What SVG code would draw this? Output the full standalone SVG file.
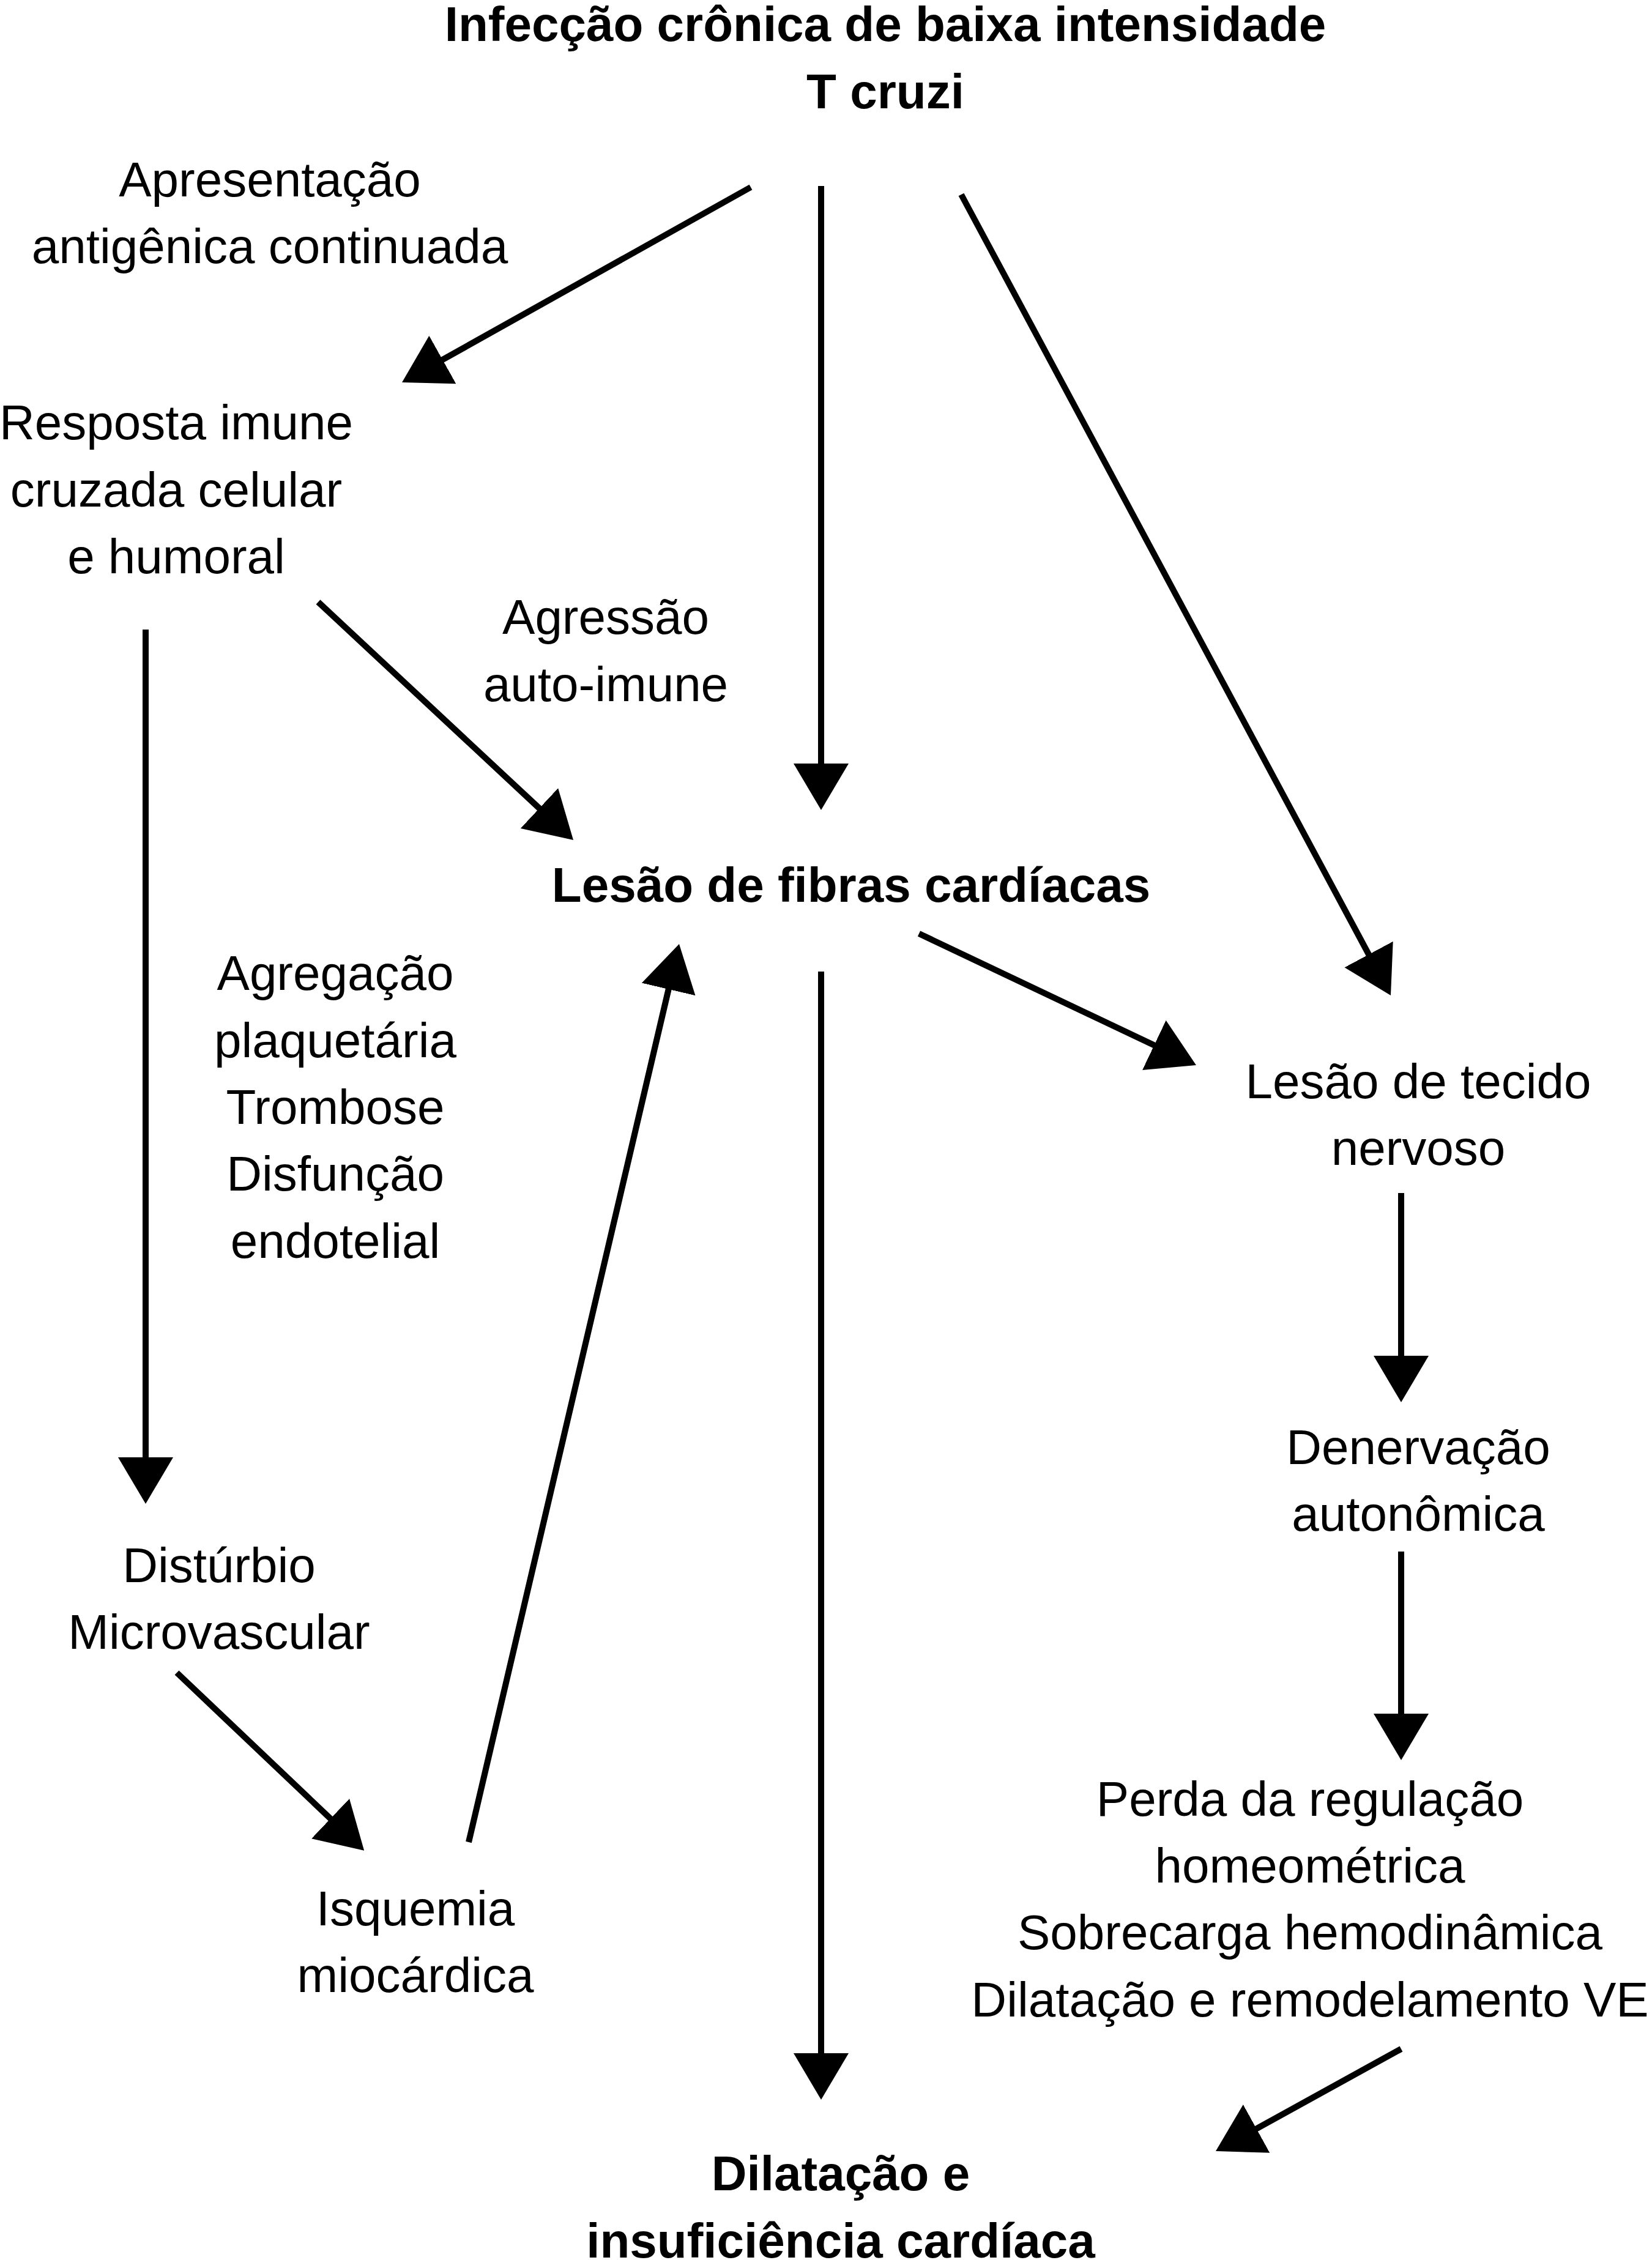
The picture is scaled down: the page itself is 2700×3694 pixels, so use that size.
<svg xmlns="http://www.w3.org/2000/svg" width="2700" height="3694" viewBox="0 0 2700 3694">
<style>
text{font-family:"Liberation Sans",Arial,sans-serif;font-size:80px;fill:#000;text-anchor:middle}
.b{font-weight:bold}
.c line{stroke:#000;stroke-width:10;fill:none;marker-end:url(#ah)}
</style>
<defs>
<marker id="ah" markerUnits="userSpaceOnUse" markerWidth="80" markerHeight="92" viewBox="0 -46 80 92" refX="2" refY="0" orient="auto">
<path d="M0,-45 L76,0 L0,45 Z" fill="#000"/>
</marker>
</defs>
<rect width="2700" height="3694" fill="#fff"/>
<g id="n-infeccao"><text class="b" x="1447" y="67">Infecção crônica de baixa intensidade</text><text class="b" x="1447" y="177">T cruzi</text></g>
<g id="l-apresentacao"><text x="441" y="321">Apresentação</text><text x="441" y="430">antigênica continuada</text></g>
<g id="n-resposta"><text x="288" y="718">Resposta imune</text><text x="288" y="828">cruzada celular</text><text x="288" y="937">e humoral</text></g>
<g id="l-agressao"><text x="990" y="1036">Agressão</text><text x="990" y="1146">auto-imune</text></g>
<g id="n-lesao-fibras"><text class="b" x="1391" y="1474">Lesão de fibras cardíacas</text></g>
<g id="l-agregacao"><text x="548" y="1618">Agregação</text><text x="548" y="1728">plaquetária</text><text x="548" y="1837">Trombose</text><text x="548" y="1946">Disfunção</text><text x="548" y="2056">endotelial</text></g>
<g id="n-lesao-tecido"><text x="2318" y="1795">Lesão de tecido</text><text x="2318" y="1904">nervoso</text></g>
<g id="n-denervacao"><text x="2318" y="2393">Denervação</text><text x="2318" y="2502">autonômica</text></g>
<g id="n-disturbio"><text x="358" y="2586">Distúrbio</text><text x="358" y="2695">Microvascular</text></g>
<g id="n-isquemia"><text x="679" y="3147">Isquemia</text><text x="679" y="3256">miocárdica</text></g>
<g id="n-perda"><text x="2141" y="2968">Perda da regulação</text><text x="2141" y="3077">homeométrica</text><text x="2141" y="3186">Sobrecarga hemodinâmica</text><text x="2141" y="3296">Dilatação e remodelamento VE</text></g>
<g id="n-dilatacao"><text class="b" x="1374" y="3580">Dilatação e</text><text class="b" x="1374" y="3690">insuficiência cardíaca</text></g>
<g id="connectors" class="c">
<line x1="1227" y1="306" x2="721.6" y2="588.9"/>
<line x1="1342" y1="304" x2="1342" y2="1250"/>
<line x1="1571" y1="318" x2="2238" y2="1561.8"/>
<line x1="520" y1="984" x2="882.9" y2="1322.5"/>
<line x1="238" y1="1029" x2="238" y2="2384"/>
<line x1="289" y1="2734" x2="541.5" y2="2973.9"/>
<line x1="766" y1="3011" x2="1093.1" y2="1615"/>
<line x1="1342" y1="1588" x2="1342" y2="3358"/>
<line x1="1502" y1="1526" x2="1888.1" y2="1709.3"/>
<line x1="2290" y1="1950" x2="2290" y2="2218"/>
<line x1="2290" y1="2536" x2="2290" y2="2803"/>
<line x1="2290" y1="3349" x2="2051.8" y2="3480.3"/>
</g>
</svg>
